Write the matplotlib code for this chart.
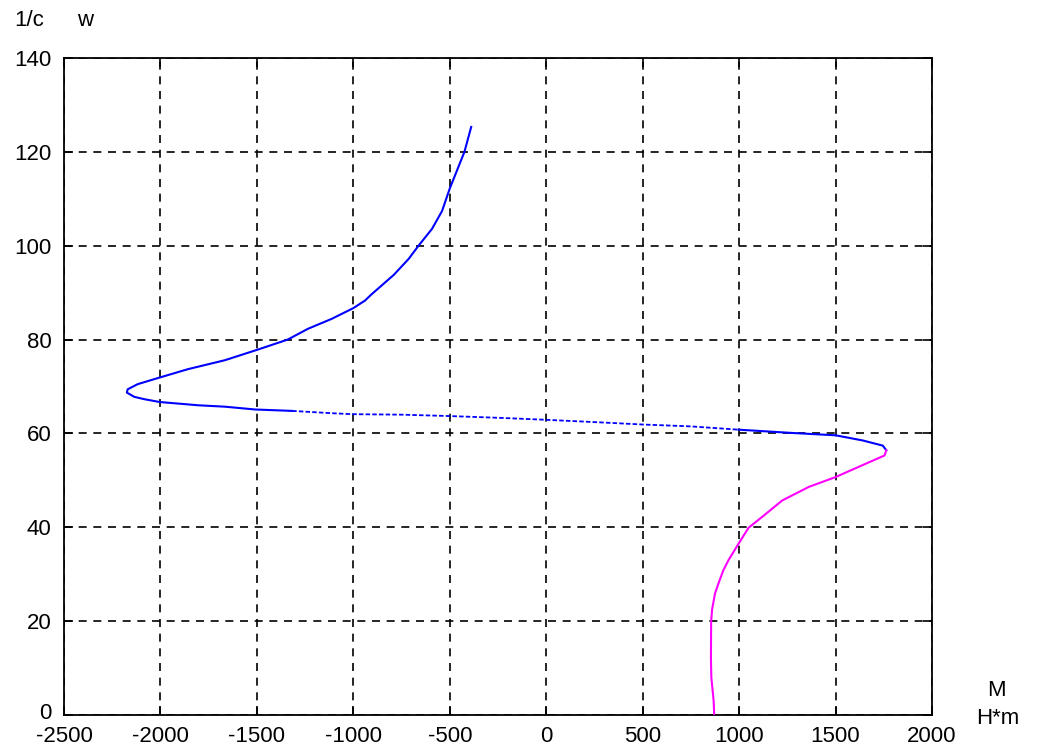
import matplotlib
matplotlib.use("Agg")
import matplotlib.pyplot as plt
import matplotlib.transforms as mtransforms

# Blue branch (upper part of the curve): M [H*m] vs 1/c (w)
blue_M = [-389, -424, -462, -500, -540, -592, -662, -713, -790, -904, -940,
          -1000, -1113, -1235, -1340, -1500, -1666, -1857, -2005, -2118, -2170,
          -2174, -2136, -2084, -2005, -1805, -1666, -1509, -1317, -1108, -1004,
          -749, -500, -228, 0, 258, 500, 750, 997, 1275, 1500, 1641, 1745, 1763]
blue_w = [125.3, 120, 116.1, 112.2, 107.4, 103.6, 100, 97.2, 93.8, 89.7, 88.3,
          86.7, 84.4, 82.3, 80, 77.8, 75.6, 73.7, 71.9, 70.5, 69.4,
          68.7, 67.8, 67.3, 66.7, 66.0, 65.7, 65.1, 64.8, 64.3, 64.1,
          64.0, 63.7, 63.3, 62.9, 62.4, 61.9, 61.5, 60.8, 60.1, 59.6, 58.5, 57.4, 56.4]

# Magenta branch (lower part)
mag_M = [1763, 1754, 1676, 1500, 1361, 1223, 1119, 1049, 997, 945, 919,
         897, 875, 860, 855, 854, 856, 862, 868, 871]
mag_w = [56.4, 55.3, 53.9, 50.7, 48.6, 45.7, 42.2, 39.9, 36.5, 33.0, 30.9,
         28.5, 25.9, 22.5, 19.9, 12, 8, 5.5, 3, 0]

x_ticks = [-2500, -2000, -1500, -1000, -500, 0, 500, 1000, 1500, 2000]
y_ticks = [0, 20, 40, 60, 80, 100, 120, 140]

plt.rcParams['font.family'] = ['Liberation Sans', 'DejaVu Sans']
FS = 16

fig = plt.figure(figsize=(10.37, 7.55), dpi=100)
ax = fig.add_axes([64/1037, 40/755, (932-64)/1037, (715-58)/755])

# sparse (dotted-looking) middle section of the blue branch
i0, i1 = 28, 38
blue = (0, 0, 1)
ax.plot(blue_M[:i0 + 1], blue_w[:i0 + 1], color=blue, lw=1.5, zorder=3)
ax.plot(blue_M[i0:i1 + 1], blue_w[i0:i1 + 1], color=blue, lw=1.3,
        linestyle=(0, (2.5, 1.2)), zorder=3)
ax.plot(blue_M[i1:], blue_w[i1:], color=blue, lw=1.5, zorder=3)
ax.plot(mag_M, mag_w, color=(1, 0, 1), lw=1.5, zorder=3)

ax.set_xlim(-2500, 2000)
ax.set_ylim(0, 140)
ax.set_xticks(x_ticks)
ax.set_yticks(y_ticks)
ax.set_xticklabels([str(t) for t in x_ticks], fontsize=FS)
ax.set_yticklabels([str(t) for t in y_ticks], fontsize=FS)
ax.tick_params(direction='in', length=6.5, width=1.2, top=True, right=True,
               colors='black')
ax.tick_params(axis='x', pad=8)
ax.tick_params(axis='y', pad=9)
ax.grid(True, color='black', linestyle=(0, (4.8, 4)), linewidth=1.2)
for s in ax.spines.values():
    s.set_linewidth(1.3)
    s.set_color('black')

# the "0" on the y axis sits slightly higher, just above the x labels
lab0 = ax.get_yticklabels()[0]
lab0.set_transform(lab0.get_transform() +
                   mtransforms.ScaledTranslation(0, 4/100, fig.dpi_scale_trans))

fig.text(14/1037, 1 - 20/755, "1/c", fontsize=FS, va='center', ha='left')
fig.text(77/1037, 1 - 20/755, "w", fontsize=FS, va='center', ha='left')
fig.text(996/1037, 1 - 690/755, "M", fontsize=FS, va='center', ha='center')
fig.text(998/1037, 1 - 718/755, "H*m", fontsize=FS, va='center', ha='center')

fig.savefig("out.png", dpi=100)
